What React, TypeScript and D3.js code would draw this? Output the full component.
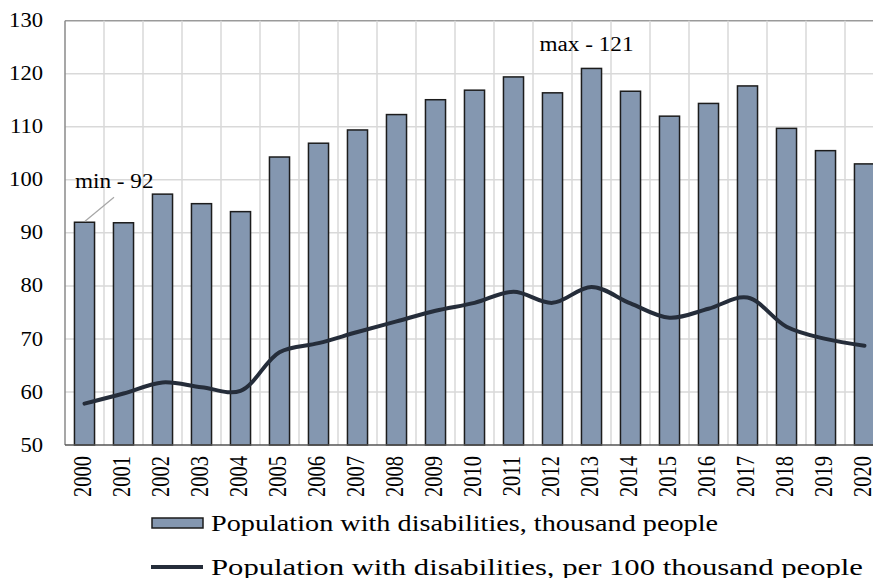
import React, { useEffect, useRef } from "react";
import * as d3 from "d3";

const years = [
  "2000", "2001", "2002", "2003", "2004", "2005", "2006", "2007", "2008", "2009", "2010",
  "2011", "2012", "2013", "2014", "2015", "2016", "2017", "2018", "2019", "2020",
];
// thousand people (bars)
const thousands = [
  92, 91.9, 97.3, 95.5, 94, 104.3, 106.9, 109.4, 112.3, 115.1, 116.9,
  119.4, 116.4, 121, 116.7, 112, 114.4, 117.7, 109.7, 105.5, 103,
];
// per 100 thousand people (line)
const per100k = [
  57.8, 59.7, 61.8, 60.9, 60.2, 67.5, 69.2, 71.3, 73.3, 75.3, 76.8,
  78.9, 76.8, 79.8, 76.7, 74, 75.7, 77.8, 72.3, 70, 68.7,
];
const yTicks = [50, 60, 70, 80, 90, 100, 110, 120, 130];
const legendLabels = [
  "Population with disabilities, thousand people",
  "Population with disabilities, per 100 thousand people",
];

const FONT = "'Liberation Serif', 'Times New Roman', Times, serif";
// the source picture is a bit stretched sideways, so text is too
const SX = 1.16;

const App = () => {
  const ref = useRef<SVGSVGElement>(null);

  useEffect(() => {
    const svg = d3.select(ref.current);
    svg.selectAll("*").remove();

    const left = 65;
    const top = 20.7;
    const bottom = 445;
    const step = 39;
    const right = left + step * years.length;

    const x = d3.scaleBand().domain(years).range([left, right]).paddingInner(0.485).paddingOuter(0.2425);
    const y = d3.scaleLinear().domain([50, 130]).range([bottom, top]);
    const cx = (d: string) => (x(d) as number) + x.bandwidth() / 2;

    const grid = svg.append("g");
    // horizontal grid
    grid
      .selectAll("line.h")
      .data(yTicks.slice(1))
      .enter()
      .append("line")
      .attr("x1", left)
      .attr("x2", right)
      .attr("y1", (d) => y(d))
      .attr("y2", (d) => y(d))
      .attr("stroke", (d) => (d === 130 ? "#9a9a9a" : "#d9d9d9"))
      .attr("stroke-width", 1.5);

    // vertical grid at category boundaries
    grid
      .selectAll("line.v")
      .data(years.slice(1))
      .enter()
      .append("line")
      .attr("x1", (d) => cx(d) - step / 2)
      .attr("x2", (d) => cx(d) - step / 2)
      .attr("y1", top)
      .attr("y2", bottom)
      .attr("stroke", "#d9d9d9")
      .attr("stroke-width", 1.5);

    // bars
    svg
      .append("g")
      .selectAll("rect")
      .data(thousands)
      .enter()
      .append("rect")
      .attr("x", (d, i) => x(years[i]) as number)
      .attr("y", (d) => y(d))
      .attr("width", x.bandwidth())
      .attr("height", (d) => bottom - y(d))
      .attr("fill", "#8497b0")
      .attr("stroke", "#1c1c1c")
      .attr("stroke-width", 1.5);

    // axes lines
    svg.append("line").attr("x1", left).attr("x2", left).attr("y1", top).attr("y2", bottom)
      .attr("stroke", "#8a8a8a").attr("stroke-width", 1.5);
    svg.append("line").attr("x1", left).attr("x2", right).attr("y1", bottom).attr("y2", bottom)
      .attr("stroke", "#555").attr("stroke-width", 1.5);

    // smoothed line
    const line = d3
      .line<number>()
      .x((d, i) => cx(years[i]))
      .y((d) => y(d))
      .curve(d3.curveCatmullRom.alpha(0.5));
    svg
      .append("path")
      .datum(per100k)
      .attr("d", line)
      .attr("fill", "none")
      .attr("stroke", "#252d3a")
      .attr("stroke-width", 4)
      .attr("stroke-linecap", "round");

    // y tick labels
    svg
      .append("g")
      .selectAll("text")
      .data(yTicks)
      .enter()
      .append("text")
      .attr("transform", (d) => `translate(43,${y(d)}) scale(1.13,1)`)
      .attr("dy", "0.33em")
      .attr("text-anchor", "end")
      .style("font-family", FONT)
      .style("font-size", "20px")
      .text((d) => d);

    // x tick labels
    svg
      .append("g")
      .selectAll("text")
      .data(years)
      .enter()
      .append("text")
      .attr("transform", (d) => `translate(${cx(d)},456) rotate(-90) scale(1,1.18)`)
      .attr("dy", "0.25em")
      .attr("text-anchor", "end")
      .style("font-family", FONT)
      .style("font-size", "20.5px")
      .text((d) => d);

    // min / max annotations
    const minIdx = 0;
    const maxIdx = thousands.indexOf(d3.max(thousands) as number);
    const cMin = cx(years[minIdx]);
    svg.append("line")
      .attr("x1", cMin + 0.5).attr("y1", y(thousands[minIdx]) - 1)
      .attr("x2", cMin + 29.5).attr("y2", y(thousands[minIdx]) - 25)
      .attr("stroke", "#a6a6a6").attr("stroke-width", 1.2);
    svg.append("text")
      .attr("transform", `translate(75,188) scale(${SX},1)`)
      .style("font-family", FONT).style("font-size", "20px")
      .text(`min - ${Math.round(thousands[minIdx])}`);
    const cMax = cx(years[maxIdx]);
    svg.append("text")
      .attr("transform", `translate(${cMax - 5},51) scale(${SX},1)`)
      .attr("text-anchor", "middle")
      .style("font-family", FONT).style("font-size", "20px")
      .text(`max - ${Math.round(thousands[maxIdx])}`);

    // legend
    const lg = svg.append("g");
    lg.append("rect").attr("x", 152).attr("y", 518).attr("width", 51).attr("height", 10)
      .attr("fill", "#8497b0").attr("stroke", "#1c1c1c").attr("stroke-width", 1.5);
    lg.append("line").attr("x1", 151).attr("x2", 203).attr("y1", 567).attr("y2", 567)
      .attr("stroke", "#252d3a").attr("stroke-width", 4);
    lg.selectAll("text")
      .data(legendLabels)
      .enter()
      .append("text")
      .attr("x", 211)
      .attr("y", (d, i) => (i === 0 ? 531 : 574.5))
      .style("font-family", FONT)
      .style("font-size", "23px")
      .attr("textLength", (d, i) => (i === 0 ? 507 : 652))
      .attr("lengthAdjust", "spacingAndGlyphs")
      .text((d) => d);
  }, []);

  return (
    <svg
      ref={ref}
      width={873}
      height={578}
      style={{ position: "absolute", left: 0, top: 0, background: "#fff" }}
    />
  );
};

export default App;
